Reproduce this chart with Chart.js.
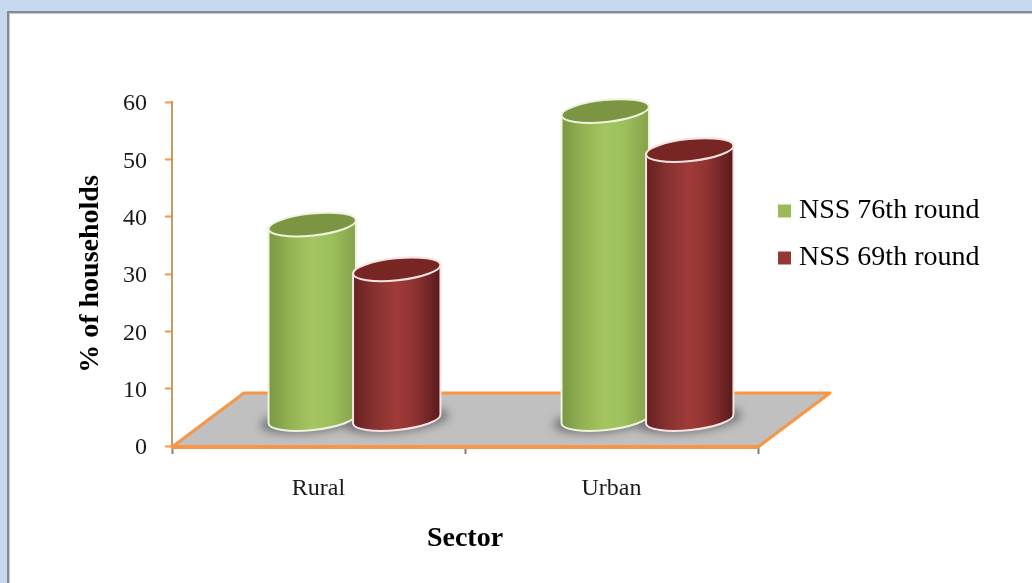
<!DOCTYPE html>
<html>
<head>
<meta charset="utf-8">
<style>html,body{margin:0;padding:0;background:#fff}canvas{display:block}</style>
<script src="https://cdn.jsdelivr.net/npm/chart.js@4/dist/chart.umd.js"></script>
</head>
<body>
<canvas id="c" width="1032" height="583"></canvas>
<script>
const categories = ['Rural', 'Urban'];
const nss76 = [34, 53.8];
const nss69 = [26.2, 47];
const seriesNames = ['NSS 76th round', 'NSS 69th round'];
const yTicks = [0, 10, 20, 30, 40, 50, 60];

const serif = '"Liberation Serif", "Times New Roman", serif';
const depthX = 72, depthY = 53;
const tones = [
  {stops: ['#7a9643', '#93b353', '#a4c661', '#9dbf5c', '#84a249'], top: '#7b9543', rim: '#eef3de'},
  {stops: ['#662120', '#873231', '#a03b39', '#8d3231', '#571a1a'], top: '#772624', rim: '#f6e4e2'}
];
const ry = 11, tilt = -0.105;

function silhouette(ctx, el) {
  const rx = el.width / 2;
  ctx.ellipse(el.x, el.y, rx, ry, tilt, Math.PI, 2 * Math.PI);
  ctx.ellipse(el.x, el.base, rx, ry, tilt, 0, Math.PI);
  ctx.closePath();
}

function openCylinders(chart, meta, index) {
  const ctx = chart.ctx, tone = tones[index];
  ctx.save();
  ctx.translate(depthX / 2, -depthY / 2);
  meta.data.forEach(el => {
    const rx = el.width / 2;
    const g = ctx.createLinearGradient(el.x - rx, 0, el.x + rx, 0);
    const pos = [0, 0.25, 0.5, 0.72, 1];
    tone.stops.forEach((c, k) => g.addColorStop(pos[k], c));
    el.options = Object.assign({}, el.options, {backgroundColor: g});
    ctx.beginPath();
    silhouette(ctx, el);
    ctx.fillStyle = g;
    ctx.fill();
  });
  ctx.save();
  ctx.beginPath();
  meta.data.forEach(el => silhouette(ctx, el));
  ctx.clip();
}

function closeCylinders(chart, meta, index) {
  const ctx = chart.ctx, tone = tones[index];
  ctx.restore();
  meta.data.forEach(el => {
    const rx = el.width / 2;
    ctx.beginPath();
    silhouette(ctx, el);
    ctx.strokeStyle = tone.rim;
    ctx.lineWidth = 2;
    ctx.stroke();
    ctx.beginPath();
    ctx.ellipse(el.x, el.y, rx, ry, tilt, 0, 2 * Math.PI);
    ctx.fillStyle = tone.top;
    ctx.fill();
    ctx.strokeStyle = tone.rim;
    ctx.lineWidth = 2;
    ctx.stroke();
  });
  ctx.restore();
}

const cylinders = {
  id: 'cylinders',
  beforeDraw(chart) {
    const ctx = chart.ctx, W = chart.width, H = chart.height;
    ctx.save();
    ctx.fillStyle = '#c6d9f1';
    ctx.fillRect(0, 0, W, H);
    ctx.fillStyle = '#868b90';
    ctx.fillRect(7, 11, W - 7, H - 11);
    ctx.fillStyle = '#c9c9c9';
    ctx.fillRect(9, 13, W - 9, H - 13);
    ctx.fillStyle = '#ffffff';
    ctx.fillRect(10, 14, W - 10, H - 14);
    ctx.restore();
  },
  afterLayout(chart) {
    const lg = chart.legend;
    const w = lg.width, h = lg.height;
    lg.left = 765; lg.top = 178; lg.right = lg.left + w; lg.bottom = lg.top + h;
  },
  beforeDatasetsDraw(chart) {
    const ctx = chart.ctx, a = chart.chartArea;
    ctx.save();
    ctx.beginPath();
    ctx.moveTo(a.left, a.bottom + 1);
    ctx.lineTo(a.left + depthX, a.bottom - depthY);
    ctx.lineTo(a.right + depthX, a.bottom - depthY);
    ctx.lineTo(a.right, a.bottom + 1);
    ctx.closePath();
    ctx.fillStyle = '#c0c0c0';
    ctx.fill();
    ctx.strokeStyle = '#f79646';
    ctx.lineWidth = 3;
    ctx.lineJoin = 'round';
    ctx.stroke();
    ctx.beginPath();
    ctx.moveTo(a.left, a.bottom + 1);
    ctx.lineTo(a.right, a.bottom + 1);
    ctx.lineWidth = 4;
    ctx.stroke();
    ctx.translate(depthX / 2, -depthY / 2);
    ctx.fillStyle = '#6f6f74';
    ctx.filter = 'blur(5px)';
    chart.data.datasets.forEach((d, i) => {
      chart.getDatasetMeta(i).data.forEach(el => {
        ctx.beginPath();
        ctx.ellipse(el.x, el.base + 1, el.width / 2 + 8, ry + 1, tilt, 0, 2 * Math.PI);
        ctx.fill();
      });
    });
    ctx.restore();
  },
  beforeDatasetDraw() {
    return false;
  },
  afterDatasetsDraw(chart) {
    chart.data.datasets.forEach((d, i) => {
      const meta = chart.getDatasetMeta(i);
      openCylinders(chart, meta, i);
      meta.controller.draw();
      closeCylinders(chart, meta, i);
    });
  }
};

new Chart(document.getElementById('c'), {
  type: 'bar',
  data: {
    labels: categories,
    datasets: [
      {label: seriesNames[0], data: nss76, backgroundColor: '#9bbb59', clip: false,
       categoryPercentage: 0.5768, barPercentage: 1.04},
      {label: seriesNames[1], data: nss69, backgroundColor: '#953735', clip: false,
       categoryPercentage: 0.5768, barPercentage: 1.04}
    ]
  },
  plugins: [cylinders],
  options: {
    responsive: false,
    animation: false,
    devicePixelRatio: 1,
    layout: {padding: {top: 102, right: 274, bottom: 0, left: 0}},
    plugins: {
      title: {display: false},
      tooltip: {enabled: false},
      legend: {
        position: 'chartArea',
        align: 'start',
        labels: {
          usePointStyle: true,
          pointStyle: 'rect',
          boxWidth: 1,
          boxHeight: 13,
          padding: 19,
          color: '#000000',
          font: {family: serif, size: 28}
        }
      }
    },
    scales: {
      x: {
        afterFit(s) { s.height = 137; },
        border: {display: false},
        grid: {drawOnChartArea: false, drawTicks: true, tickLength: 8, tickWidth: 2, tickColor: '#808080', color: '#808080'},
        ticks: {color: '#1a1a1a', padding: 20, maxRotation: 0, font: {family: serif, size: 24}},
        title: {display: true, text: 'Sector', color: '#000000', padding: {top: 0, bottom: 27},
                font: {family: serif, size: 28, weight: 'bold'}}
      },
      y: {
        min: 0,
        max: 60,
        afterFit(s) { s.width = 172; },
        afterBuildTicks(s) { s.ticks = yTicks.map(v => ({value: v})); },
        border: {display: true, color: '#c9995f', width: 2},
        grid: {drawOnChartArea: false, drawTicks: true, tickLength: 7, tickWidth: 2, tickColor: '#f79646', color: '#f79646'},
        ticks: {color: '#1a1a1a', padding: 18, labelOffset: 2, font: {family: serif, size: 24}},
        title: {display: true, text: '% of households', color: '#000000', padding: {top: 74, bottom: 0},
                font: {family: serif, size: 28, weight: 'bold'}}
      }
    }
  }
});
</script>
</body>
</html>
